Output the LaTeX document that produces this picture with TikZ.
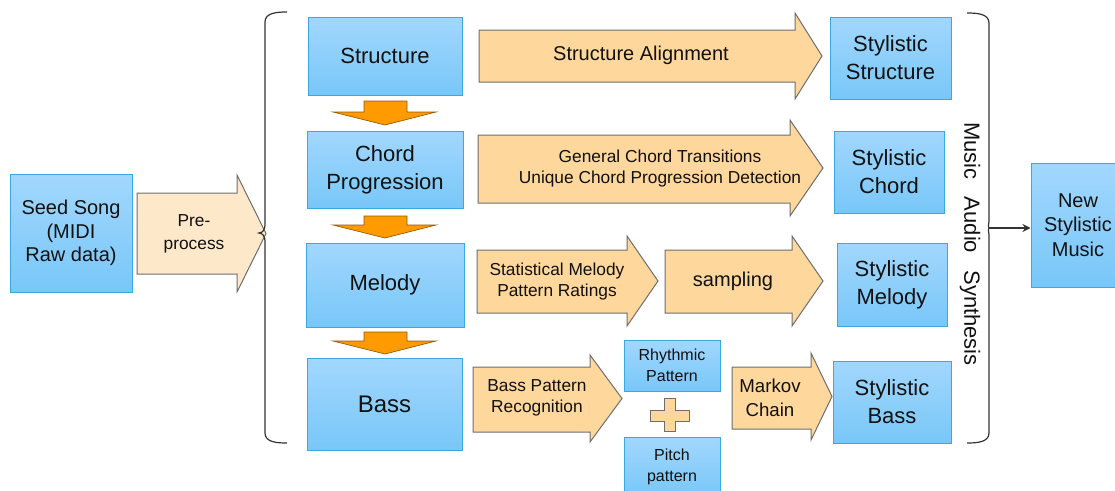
\documentclass[tikz,border=0pt]{standalone}
\usepackage{fontspec}
\setmainfont{Liberation Sans}
\usetikzlibrary{arrows.meta}
\definecolor{boxtop}{HTML}{A2D7FE}
\definecolor{boxbot}{HTML}{78C7F8}
\definecolor{boxedge}{HTML}{3AA9E0}
\definecolor{arrfill}{HTML}{FDD79C}
\definecolor{arredge}{HTML}{6E6E6E}
\definecolor{prefill}{HTML}{FDE8CA}
\definecolor{downfill}{HTML}{FF9A00}
\definecolor{downedge}{HTML}{8C5A10}
\definecolor{txt}{HTML}{111111}
\definecolor{bracecol}{HTML}{333333}
\newcommand{\blockarr}[8]{\draw[#1] (#2,#5) -- (#3,#5) -- (#3,#7) -- (#4,{(#7+#8)/2}) -- (#3,#8) -- (#3,#6) -- (#2,#6) -- cycle;}
\newcommand{\downarr}[3]{\draw[downarrow] (364,#1) -- (407,#1) -- (407,#2) -- (436,#2) -- (385,#3) -- (333,#2) -- (364,#2) -- cycle;}
\begin{document}
\begin{tikzpicture}[x=0.75pt,y=-0.75pt,
  box/.style={draw=boxedge, line width=0.75pt, top color=boxtop, bottom color=boxbot, align=center, inner sep=0pt, text=txt},
  orarrow/.style={draw=arredge, fill=arrfill, line width=0.75pt, line join=miter},
  prearrow/.style={draw=arredge, fill=prefill, line width=0.75pt},
  downarrow/.style={draw=downedge, fill=downfill, line width=0.5pt},
  plussign/.style={draw=arredge, fill=arrfill, line width=0.75pt},
  brace/.style={draw=bracecol, line width=0.9pt},
  lbl/.style={align=center, text=txt, inner sep=0pt},
  fmain/.style={font=\fontsize{16.5}{21}\selectfont},
  fmid/.style={font=\fontsize{15}{17.6}\selectfont},
  fsmall/.style={font=\fontsize{13}{15.75}\selectfont},
  ftiny/.style={font=\fontsize{12}{15.75}\selectfont}]
\useasboundingbox (0,0) rectangle (1115,490);
\clip (0,0) rectangle (1115,490);

% left column
\node[box, fmid, minimum width=91.5pt, minimum height=88.5pt] (seed) at (71,233) {Seed Song\\(MIDI\\Raw data)};
\blockarr{prearrow}{137}{237}{266}{193}{274}{175}{292}
\node[lbl, fsmall, font=\fontsize{13}{17.25}\selectfont] (pre) at (194,234) {Pre-\\process};

% left brace
\coordinate (lb) at (259,233);
\draw[brace] (287,12) to[out=180,in=90] (265,22) -- (265,225) to[out=-90,in=0] (lb) to[out=0,in=90] (265,241) -- (265,433) to[out=-90,in=180] (287,443);

% middle column
\node[box, fmain, minimum width=115.5pt, minimum height=58.5pt] (structure) at (385,56) {Structure};
\node[box, fmain, minimum width=117pt, minimum height=57.75pt] (chord) at (385,169.5) {Chord\\Progression};
\node[box, fmain, minimum width=118.5pt, minimum height=63pt] (melody) at (385,285) {Melody};
\node[box, font=\fontsize{18}{21}\selectfont, minimum width=116.25pt, minimum height=69pt] (bass) at (384.5,404) {Bass};
\downarr{101}{112}{125}
\downarr{216}{225}{238}
\downarr{332}{341}{354}

% process arrows
\blockarr{orarrow}{479}{795}{822}{30}{82}{13}{99}
\node[lbl, fmid] (salign) at (641,55) {Structure Alignment};
\blockarr{orarrow}{478}{790}{823}{135}{203}{120}{216}
\node[lbl, fsmall, font=\fontsize{13}{15.75}\selectfont] (ctrans) at (660,169) {General Chord Transitions\\Unique Chord Progression Detection};
\blockarr{orarrow}{477}{627}{658}{250}{313}{236}{326}
\node[lbl, fsmall] (smelody) at (557,282) {Statistical Melody\\Pattern Ratings};
\blockarr{orarrow}{665}{792}{823}{250}{313}{236}{326}
\node[lbl, fmid] (sampling) at (733,281) {sampling};
\blockarr{orarrow}{473}{590}{622}{367}{432}{355}{442}
\node[lbl, fsmall] (bpr) at (537,398) {Bass Pattern\\Recognition};
\node[box, ftiny, minimum width=72pt, minimum height=38.25pt] (rhythm) at (672,365.5) {Rhythmic\\Pattern};
\draw[plussign] (664,398) -- (675,398) -- (675,410) -- (689,410) -- (689,421) -- (675,421) -- (675,431) -- (664,431) -- (664,421) -- (650,421) -- (650,410) -- (664,410) -- cycle;
\node[box, ftiny, minimum width=72pt, minimum height=45pt] (pitch) at (672,467) {Pitch\\pattern};
\blockarr{orarrow}{732}{811}{832}{367}{429}{353}{440}
\node[lbl, font=\fontsize{14}{18}\selectfont] (markov) at (770,398) {Markov\\Chain};

% stylistic outputs
\node[box, fmain, minimum width=90.75pt, minimum height=61.5pt] (sstruct) at (890.5,58) {Stylistic\\Structure};
\node[box, fmain, minimum width=82.5pt, minimum height=61.5pt] (schord) at (889,172) {Stylistic\\Chord};
\node[box, fmain, minimum width=82.5pt, minimum height=62.25pt] (smel) at (892,284.5) {Stylistic\\Melody};
\node[box, fmain, minimum width=88.5pt, minimum height=61.5pt] (sbass) at (892,402) {Stylistic\\Bass};

% right brace
\coordinate (rb) at (990,228);
\draw[brace] (967,13) to[out=0,in=90] (989,23) -- (989,221) to[out=-90,in=180] (rb) to[out=180,in=90] (989,235) -- (989,433) to[out=-90,in=0] (967,443);
\node[lbl, fmain, rotate=-90] (mas) at (970,244) {Music\hspace{13pt}Audio\hspace{13pt}Synthesis};

% final output
\node[box, fmid, font=\fontsize{15}{18.4}\selectfont, minimum width=70.5pt, minimum height=93pt] (new) at (1078,225) {New\\Stylistic\\Music};
\draw[draw=bracecol, line width=0.9pt, -{Stealth[length=6pt,width=6pt]}] (rb) -- (rb -| new.west);
\end{tikzpicture}
\end{document}
